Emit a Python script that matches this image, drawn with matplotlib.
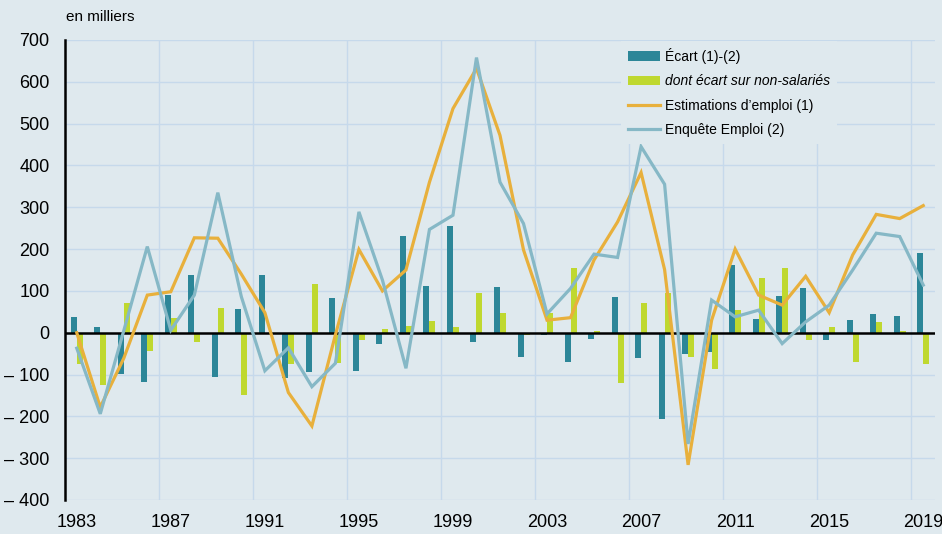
import numpy as np
import matplotlib
matplotlib.use("Agg")
import matplotlib.pyplot as plt
from matplotlib.patches import Patch
from matplotlib.lines import Line2D

plt.rcParams['font.family'] = ['Liberation Sans', 'DejaVu Sans']

years = list(range(1983, 2020))
ecart = [38, 13, -99, -117, 90, 139, -107, 57, 139, -108, -94, 84, -91, -27, 232, 112,
         256, -22, 110, -59, -5, -69, -16, 85, -60, -207, -51, -47, 161, 34, 89, 108,
         -17, 30, 45, 41, 190]
non_salaries = [-75, -125, 70, -44, 35, -22, 58, -150, 0, -75, 116, -72, -17, 9, 17, 28,
                13, 94, 46, -6, 47, 155, 3, -120, 71, 94, -59, -87, 54, 130, 155, -18,
                14, -71, 26, 5, -75]
estimations = [0, -178, -61, 90, 98, 227, 226, 140, 48, -143, -223, -5, 199, 100, 150, 360,
               536, 632, 472, 198, 30, 36, 174, 265, 383, 151, -316, 30, 200, 90, 66, 135,
               48, 186, 283, 273, 304]
enquete = [-37, -194, 5, 206, 6, 90, 335, 86, -91, -36, -129, -73, 289, 126, -85, 247,
           281, 658, 360, 261, 45, 106, 188, 180, 445, 355, -266, 78, 38, 54, -26, 26,
           66, 150, 238, 230, 114]
tick_years = [1983, 1987, 1991, 1995, 1999, 2003, 2007, 2011, 2015, 2019]
yticks = list(range(-400, 701, 100))
labels = ["Écart (1)-(2)", "dont écart sur non-salariés",
          "Estimations d’emploi (1)", "Enquête Emploi (2)"]

BG = "#dfe9ee"
GRID = "#c6d9eb"
TEAL = "#2c8698"
GREEN = "#bfd82f"
ORANGE = "#e8b03c"
BLUE = "#86b8c6"

W, H = 942, 534
fig = plt.figure(figsize=(W / 100, H / 100), dpi=100, facecolor=BG)
ax = fig.add_axes([65 / W, 1 - 500 / H, (935 - 65) / W, 460 / H])
ax.set_facecolor(BG)

x = np.arange(len(years))
bw = 0.255
ax.bar(x - bw / 2, ecart, width=bw, color=TEAL, zorder=3)
ax.bar(x + bw / 2, non_salaries, width=bw, color=GREEN, zorder=3)
ax.plot(x, estimations, color=ORANGE, lw=2.3, zorder=5, solid_joinstyle='miter')
ax.plot(x, enquete, color=BLUE, lw=2.3, zorder=6, solid_joinstyle='miter')

for v in yticks:
    if v != 0:
        ax.axhline(v, color=GRID, lw=1.0, zorder=1)
ax.axhline(0, color="black", lw=1.8, zorder=4)
for gx in np.arange(3.5, len(years) - 1, 4):
    ax.axvline(gx, color=GRID, lw=1.0, zorder=1)

ax.set_xlim(-0.5, len(years) - 0.5)
ax.set_ylim(-400, 700)
for s in ['top', 'right', 'bottom']:
    ax.spines[s].set_visible(False)
ax.spines['left'].set_color('black')
ax.spines['left'].set_linewidth(1.8)
ax.spines['left'].set_zorder(7)

ax.set_xticks([years.index(y) for y in tick_years])
ax.set_xticklabels([str(y) for y in tick_years], fontsize=13)
ax.set_yticks(yticks)
ax.set_yticklabels([("– " + str(-v)) if v < 0 else str(v) for v in yticks], fontsize=13)
ax.tick_params(axis='both', length=0, colors='black')
ax.tick_params(axis='x', pad=10)
ax.tick_params(axis='y', pad=11)

fig.text(66 / W, 1 - 17 / H, "en milliers", fontsize=11, ha='left', va='center')

handles = [Patch(facecolor=TEAL), Patch(facecolor=GREEN),
           Line2D([], [], color=ORANGE, lw=2.3), Line2D([], [], color=BLUE, lw=2.3)]
leg = ax.legend(handles, labels, loc='upper left', bbox_to_anchor=(621 / W, 1 - 41 / H),
                bbox_transform=fig.transFigure, borderaxespad=0, fontsize=10,
                frameon=True, facecolor=BG, edgecolor='none', framealpha=1,
                fancybox=False, handlelength=2.3, handletextpad=0.35, labelspacing=0.75,
                borderpad=0.5)
leg.set_zorder(10)
leg.get_texts()[1].set_style('italic')

fig.savefig("out.png", dpi=100, facecolor=BG)
